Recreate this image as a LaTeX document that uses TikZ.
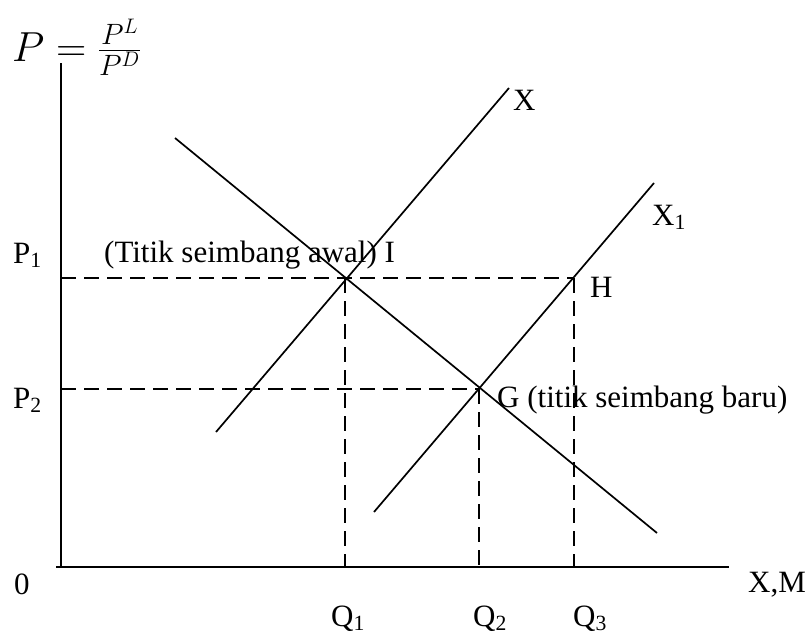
\documentclass[tikz,border=0pt]{standalone}
\usepackage{fix-cm}
\usepackage{fontspec}
\setmainfont{Liberation Serif}
\begin{document}
\begin{tikzpicture}[x=1pt,y=-1pt,
  curve/.style={line width=1.7pt},
  axisline/.style={line width=2.2pt},
  guide/.style={line width=1.4pt, dash pattern=on 15pt off 8pt},
  lbl/.style={inner sep=0pt, anchor=base west, font=\fontsize{31}{36}\selectfont}]
\useasboundingbox (0,0) rectangle (812,637);
% axes
\coordinate (O) at (61,567);
\coordinate (ytop) at (61,63);
\coordinate (xstart) at (56,567);
\coordinate (xend) at (729,567);
\draw[axisline] (ytop) -- (O);
\draw[axisline] (xstart) -- (xend);
% curves
\coordinate (Xa) at (216,432);
\coordinate (Xb) at (509,88);
\coordinate (X1a) at (374,512);
\coordinate (X1b) at (654,183);
\coordinate (Da) at (175,138);
\coordinate (Db) at (657,533);
\draw[curve] (Xa) -- (Xb);
\draw[curve] (X1a) -- (X1b);
\draw[curve] (Da) -- (Db);
% equilibrium points
\coordinate (I) at (345,278);
\coordinate (H) at (574,278);
\coordinate (G) at (479,389);
\coordinate (P1y) at (61,278);
\coordinate (P2y) at (61,389);
\coordinate (Q1x) at (345,567);
\coordinate (Q2x) at (479,567);
\coordinate (Q3x) at (574,567);
\draw[guide] (P1y) -- (H);
\draw[guide] (P2y) -- (G);
\draw[guide] (I) -- (Q1x);
\draw[guide] (G) -- (Q2x);
\draw[guide] (H) -- (Q3x);
% labels
\node[inner sep=0pt, anchor=base west, font=\fontsize{42}{48}\selectfont] (formula) at (12,61) {$P = \frac{P^L}{P^D}$};
\node[lbl] (p1) at (13,263) {P\textsubscript{1}};
\node[lbl] (p2) at (13,408) {P\textsubscript{2}};
\node[lbl] (labI) at (104,262) {(Titik seimbang awal) I};
\node[lbl] (labH) at (590,297) {H};
\node[lbl] (labG) at (497,407) {G (titik seimbang baru)};
\node[lbl] (labX) at (513,110) {X};
\node[lbl] (labX1) at (652,225) {X\textsubscript{1}};
\node[lbl] (zero) at (14,594) {0};
\node[lbl] (labXM) at (748,592) {X,M};
\node[lbl] (q1) at (331,626) {Q\textsubscript{1}};
\node[lbl] (q2) at (473,626) {Q\textsubscript{2}};
\node[lbl] (q3) at (573,626) {Q\textsubscript{3}};
\end{tikzpicture}
\end{document}
